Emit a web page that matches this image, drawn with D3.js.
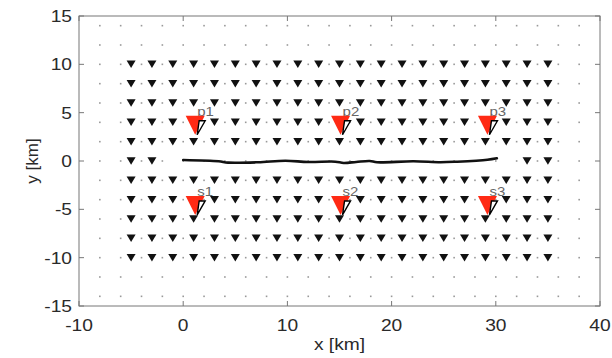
<!DOCTYPE html>
<html>
<head>
<meta charset="utf-8">
<script src="https://cdn.jsdelivr.net/npm/d3@7"></script>
<style>
html,body{margin:0;padding:0;background:#fff;}
svg{display:block;}
text{font-family:"Liberation Sans",Arial,Helvetica,sans-serif;}
</style>
</head>
<body>
<svg id="chart" width="612" height="358"></svg>
<script>
// ---- data ----
const xTicks = [-10, 0, 10, 20, 30, 40];
const yTicks = [-15, -10, -5, 0, 5, 10, 15];
// background grid of small dots (km)
const dotX = d3.range(-8, 39, 2);
const dotY = d3.range(-14, 15, 2);
// receiver triangles (km)
const recX = d3.range(-5, 36, 2);
const recY = [10, 8, 6, 4, 2, 0, -2, -4, -6, -8, -10];
const recXonFault = [-5, -3, 33, 35];
// fault trace (km)
const faultX = [0, 3.4, 4.3, 7.2, 9.8, 12, 14.6, 15.4, 16.6, 17.9, 18.6, 22.1, 24.7, 26.3, 29.2, 30.1];
const faultY = [0.1, -0.03, -0.17, -0.13, 0.03, -0.1, -0.07, -0.2, -0.1, 0.0, -0.13, -0.03, -0.13, -0.07, 0.13, 0.28];
// stations
const stationNames = ["p1", "p2", "p3", "s1", "s2", "s3"];
const stationX = [1.15, 15.1, 29.2, 1.15, 15.1, 29.2];
const stationY = [3.7, 3.7, 3.7, -4.6, -4.6, -4.6];

// ---- layout ----
const svg = d3.select("#chart");
const L = 79, R = 600, T = 16, B = 306;
const SX = 1.2; // horizontal stretch of the text
const x = d3.scaleLinear().domain([-10, 40]).range([L, R]);
const y = d3.scaleLinear().domain([-15, 15]).range([B, T]);

svg.append("rect").attr("width", 612).attr("height", 358).attr("fill", "#fff");

// dots
const dots = [];
dotY.forEach(yy => dotX.forEach(xx => dots.push([xx, yy])));
svg.append("g").selectAll("rect").data(dots).join("rect")
  .attr("x", d => x(d[0]) - 0.8).attr("y", d => y(d[1]) - 0.8)
  .attr("width", 1.6).attr("height", 1.6).attr("fill", "#999");

// receivers
const recs = [];
recY.forEach(yy => {
  const xs = yy === 0 ? recXonFault : recX;
  xs.forEach(xx => recs.push([xx, yy]));
});
const tri = (cx, cy, w, h) => `M${cx - w / 2},${cy - h / 2}L${cx + w / 2},${cy - h / 2}L${cx},${cy + h / 2}Z`;
svg.append("g").selectAll("path").data(recs).join("path")
  .attr("d", d => tri(x(d[0]), y(d[1]), 9, 7.5))
  .attr("fill", "#111");

// fault trace
svg.append("path")
  .datum(faultX.map((v, i) => [v, faultY[i]]))
  .attr("d", d3.line().x(d => x(d[0])).y(d => y(d[1])).curve(d3.curveCatmullRom))
  .attr("fill", "none").attr("stroke", "#111").attr("stroke-width", 2.6)
  .attr("stroke-linecap", "round");

// stations
const st = svg.append("g").selectAll("g").data(stationNames).join("g")
  .attr("transform", (d, i) => `translate(${x(stationX[i])},${y(stationY[i])})`);
st.append("text").attr("transform", `translate(2,-9.5) scale(${SX},1)`).attr("font-size", 12.5)
  .attr("fill", "#666").text(d => d);
st.append("path").attr("d", tri(0, 0, 19, 19)).attr("fill", "#ff2a14");
st.append("path").attr("d", "M4,-4.5L10,-4.5L2,9.5Z")
  .attr("fill", "#fff").attr("stroke", "#000").attr("stroke-width", 1.4)
  .attr("stroke-linejoin", "miter");

// frame
svg.append("rect").attr("x", L).attr("y", T).attr("width", R - L).attr("height", B - T)
  .attr("fill", "none").attr("stroke", "#777").attr("stroke-width", 1);

// ticks
const tk = svg.append("g").attr("stroke", "#777").attr("stroke-width", 1);
xTicks.forEach(v => {
  tk.append("line").attr("x1", x(v)).attr("x2", x(v)).attr("y1", B).attr("y2", B - 5);
  tk.append("line").attr("x1", x(v)).attr("x2", x(v)).attr("y1", T).attr("y2", T + 5);
});
yTicks.forEach(v => {
  tk.append("line").attr("x1", L).attr("x2", L + 5).attr("y1", y(v)).attr("y2", y(v));
  tk.append("line").attr("x1", R).attr("x2", R - 5).attr("y1", y(v)).attr("y2", y(v));
});

// tick labels
svg.append("g").selectAll("text").data(xTicks).join("text")
  .attr("transform", d => `translate(${x(d)},331) scale(${SX},1)`).attr("text-anchor", "middle")
  .attr("font-size", 16).attr("fill", "#2a2a2a").text(d => d);
svg.append("g").selectAll("text").data(yTicks).join("text")
  .attr("transform", d => `translate(72,${y(d) + 6}) scale(${SX},1)`).attr("text-anchor", "end")
  .attr("font-size", 16).attr("fill", "#2a2a2a").text(d => d);

// axis labels
svg.append("text").attr("transform", `translate(${(L + R) / 2},350) scale(${SX},1)`).attr("text-anchor", "middle")
  .attr("font-size", 16).attr("fill", "#2a2a2a").text("x [km]");
svg.append("text").attr("transform", `translate(38,${(T + B) / 2}) rotate(-90)`)
  .attr("text-anchor", "middle").attr("font-size", 17).attr("fill", "#2a2a2a").text("y [km]");
</script>
</body>
</html>
